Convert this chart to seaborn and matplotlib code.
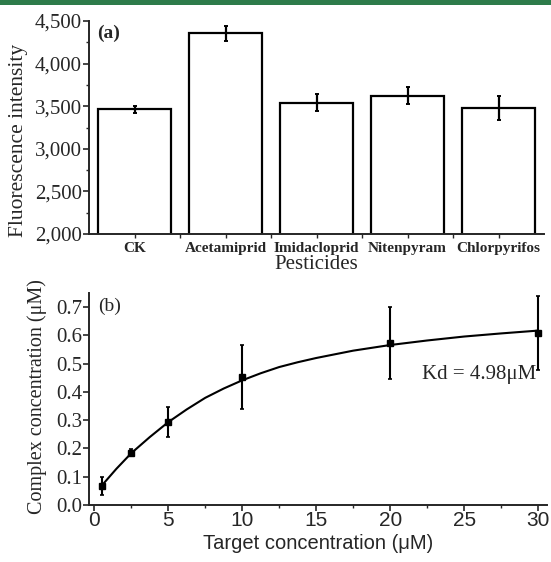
import pandas as pd
import seaborn as sns
import matplotlib.pyplot as plt
from matplotlib.patches import Rectangle
from matplotlib.ticker import FuncFormatter, MultipleLocator, FixedLocator

# panel (a) data
pesticides = ['CK', 'Acetamiprid', 'Imidacloprid', 'Nitenpyram', 'Chlorpyrifos']
intensity = [3465, 4355, 3540, 3622, 3478]
intensity_err = [40, 84, 98, 98, 141]

# panel (b) data
target_conc = [0.5, 2.5, 5, 10, 20, 30]
complex_conc = [0.068, 0.185, 0.292, 0.453, 0.573, 0.608]
complex_err = [0.031, 0.012, 0.053, 0.112, 0.127, 0.131]

# fitted binding curve
fit_x = [0.5, 1.5, 2.5, 3.75, 5, 6.25, 7.5, 8.75, 10, 11.25, 12.5, 13.75, 15,
         17.5, 20, 22.5, 25, 27.5, 30]
fit_y = [0.068, 0.128, 0.183, 0.240, 0.293, 0.338, 0.379, 0.412, 0.441, 0.466,
         0.488, 0.505, 0.520, 0.546, 0.566, 0.582, 0.596, 0.607, 0.617]

sns.set_style('ticks')
plt.rcParams['font.family'] = ['Liberation Serif', 'DejaVu Serif']
plt.rcParams['axes.linewidth'] = 1.4

fig = plt.figure(figsize=(5.51, 5.62), dpi=100)
fig.add_artist(Rectangle((0, 1 - 5 / 562), 1, 5 / 562, transform=fig.transFigure,
                         color='#2e7b4a', lw=0))

# ---- (a) bars
ax1 = fig.add_axes([89 / 551, 1 - 234 / 562, 455 / 551, 213 / 562])
df = pd.DataFrame({'Pesticides': pesticides, 'Intensity': intensity})
sns.barplot(data=df, x='Pesticides', y='Intensity', color='white', saturation=1,
            edgecolor='black', linewidth=1.6, width=0.8, ax=ax1)
ax1.errorbar(range(len(pesticides)), intensity, yerr=intensity_err, fmt='none',
             ecolor='black', elinewidth=1.6, capsize=1.6, capthick=1.4)
ax1.set_ylim(2000, 4500)
ax1.set_xlim(-0.5, 4.5)
ax1.yaxis.set_major_locator(MultipleLocator(500))
ax1.yaxis.set_minor_locator(MultipleLocator(250))
ax1.yaxis.set_major_formatter(FuncFormatter(lambda v, p: f'{int(v):,}'))
ax1.xaxis.set_minor_locator(FixedLocator([0.5, 1.5, 2.5, 3.5]))
ax1.tick_params(axis='y', which='major', length=4, width=1.2, labelsize=15, pad=1)
ax1.tick_params(axis='y', which='minor', length=2, width=1.0)
ax1.tick_params(axis='x', which='both', length=3, width=1.0, pad=3)
for lbl in ax1.get_xticklabels():
    lbl.set_fontsize(11)
    lbl.set_fontweight('bold')
ax1.set_xlabel('Pesticides', fontsize=15, labelpad=0)
ax1.set_ylabel('Fluorescence intensity', fontsize=15.5)
ax1.yaxis.set_label_coords(-0.135, 0.44)
ax1.text(0.018, 0.94, '(a)', transform=ax1.transAxes, fontsize=14,
         fontweight='bold', va='center')
sns.despine(ax=ax1)

# ---- (b) binding curve
ax2 = fig.add_axes([89 / 551, 1 - 505 / 562, 458 / 551, 212 / 562])
sns.lineplot(x=fit_x, y=fit_y, color='black', linewidth=1.5, ax=ax2)
ax2.errorbar(target_conc, complex_conc, yerr=complex_err, fmt='s', ms=4.5,
             color='black', ecolor='black', elinewidth=1.5, capsize=1.6,
             capthick=1.2)
ax2.set_xlim(-0.35, 30.6)
ax2.set_ylim(0, 0.75)
ax2.xaxis.set_major_locator(MultipleLocator(5))
ax2.xaxis.set_minor_locator(MultipleLocator(2.5))
ax2.yaxis.set_major_locator(MultipleLocator(0.1))
ax2.yaxis.set_major_formatter(FuncFormatter(lambda v, p: f'{v:.1f}'))
ax2.tick_params(axis='both', which='major', length=4, width=1.2)
ax2.tick_params(axis='x', which='minor', length=2.5, width=1.0)
ax2.tick_params(axis='y', labelsize=15, pad=1)
ax2.tick_params(axis='x', labelsize=15, pad=0.5)
for lbl in ax2.get_xticklabels():
    lbl.set_family(['Liberation Sans', 'DejaVu Sans'])
ax2.set_xlabel('Target concentration (μM)', fontsize=14.5,
               family=['Liberation Sans', 'DejaVu Sans'], labelpad=3)
ax2.set_ylabel('Complex concentration (μM)', fontsize=14.5)
ax2.yaxis.set_label_coords(-0.092, 0.51)
ax2.text(0.02, 0.935, '(b)', transform=ax2.transAxes, fontsize=14, va='center')
ax2.text(29.9, 0.46, 'Kd = 4.98μM', fontsize=15, ha='right', va='center')
sns.despine(ax=ax2)

fig.savefig('out.png', dpi=100)
